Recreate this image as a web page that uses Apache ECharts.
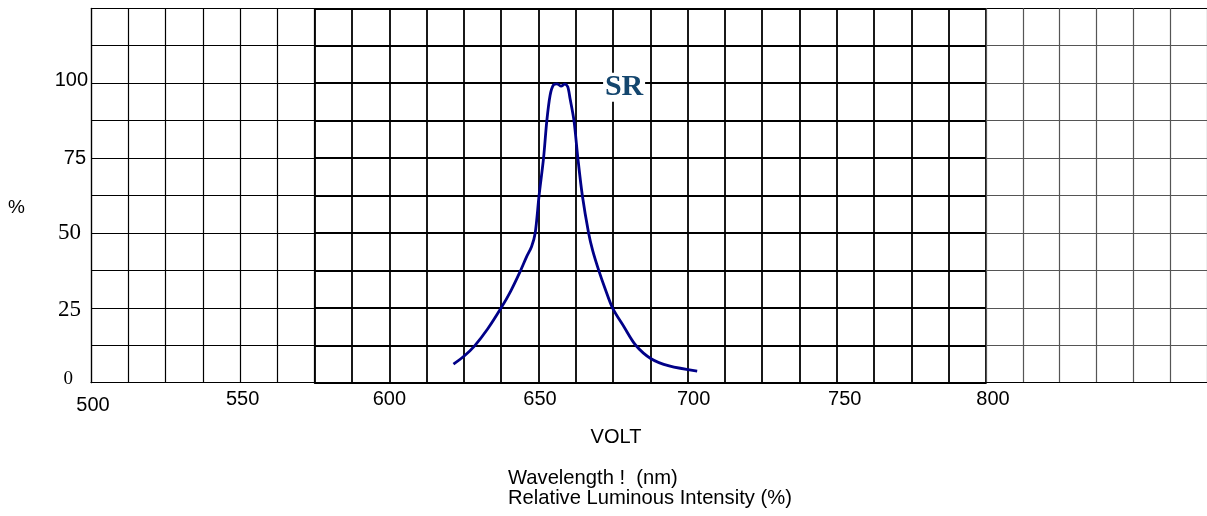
<!DOCTYPE html>
<html><head><meta charset="utf-8">
<script src="https://cdn.jsdelivr.net/npm/echarts@6/dist/echarts.min.js"></script>
<style>html,body{margin:0;padding:0;background:#fff}#c{width:1207px;height:516px}</style>
</head><body><div id="c"></div>
<script>
// ---- data ----
const wavelength = [621.5, 625.2, 628.6, 633, 637.5, 640.7, 643.8, 646, 647.7, 648.9, 650.2, 651.7, 652.8, 653.9, 655, 656.2, 657.6, 658.8, 659.8, 660.6, 661.9, 663.2, 664.7, 666.8, 668.2, 670.2, 672.4, 674.8, 678.7, 682.6, 687.6, 693.8, 703.2];
const intensity  = [6.2, 9.0, 12.3, 18, 25, 30.6, 37, 42, 45.5, 50, 62.5, 75, 87.5, 96, 99.4, 99.8, 99, 99.7, 98.8, 94.8, 87.5, 75, 62.5, 50, 44, 37.5, 31.2, 25, 18.6, 12.5, 8.1, 5.6, 3.9];
const xLabelValues = [500, 550, 600, 650, 700, 750, 800];
const yLabelValues = [0, 25, 50, 75, 100];
const seriesName = 'SR';
const srLabelAt = [678.7, 98.6];
const xRanges = [[500, 575], [575, 800], [800, 875]];

// ---- layout / style ----
const cell = 37.29, L = 91, T = 8.3, H = 374.4;
const SANS = '"Liberation Sans", Arial, sans-serif';
const SERIF = '"Liberation Serif", "Times New Roman", serif';
const xLabelStyle = {
  500: {padding: [6, 0, 0, 4]}, 550: {padding: [0, 0, 0, 5]}, 600: {padding: [0, 0, 0, 0]},
  650: {padding: [0, 0, 0, 3]}, 700: {padding: [0, 0, 0, 12]}, 750: {padding: [0, 0, 0, 16]},
  800: {padding: [0, 0, 4, 14]}
};
const yLabelStyle = {
  0: {fontFamily: SERIF, fontSize: 19, padding: [0, 15, 8, 0]},
  25: {fontFamily: SERIF, fontSize: 23, padding: [4, 7, 0, 0]},
  50: {fontFamily: SERIF, fontSize: 23, padding: [0, 7, 0, 0]},
  75: {fontFamily: SANS, fontSize: 20, padding: [0, 2, 0, 0]},
  100: {fontFamily: SANS, fontSize: 20, padding: [0, 0, 6, 0]}
};
const xRich = {}, yRich = {};
xLabelValues.forEach(v => { xRich['x' + v] = Object.assign({fontFamily: SANS, fontSize: 20, color: '#000'}, xLabelStyle[v]); });
yLabelValues.forEach(v => { yRich['y' + v] = Object.assign({color: '#000'}, yLabelStyle[v]); });

const gridStyles = [
  {color: '#000', width: 1.2},
  {color: '#000', width: 1.8},
  {color: ['#000', '#555', '#555', '#555', '#555', '#555', '#555', '#555', '#555', '#555', '#000'], width: 1.2}
];
const cellsPer = [6, 18, 6];
const lefts = [L, L + 6 * cell, L + 24 * cell];

const grids = [], xAxes = [], yAxes = [];
xRanges.forEach((r, i) => {
  grids.push({left: lefts[i], top: T, width: cellsPer[i] * cell, height: H, containLabel: false});
  const xs = i === 2 ? {color: '#555', width: 1.2} : gridStyles[i];
  xAxes.push({
    type: 'value', gridIndex: i, min: r[0], max: r[1], interval: 12.5,
    axisLine: {show: true, lineStyle: {color: '#000', width: i === 1 ? 1.8 : 1.2}},
    axisTick: {show: false},
    splitLine: {show: true, lineStyle: xs},
    axisLabel: {
      show: i < 2, margin: 7, showMinLabel: true, showMaxLabel: true,
      formatter: v => xLabelValues.includes(v) && !(i === 0 && v === 575) ? '{x' + v + '|' + v + '}' : '',
      rich: xRich
    }
  });
  yAxes.push({
    type: 'value', gridIndex: i, min: 0, max: 125, interval: 12.5,
    axisLine: {show: i === 0, lineStyle: {color: '#000', width: 1.2}},
    axisTick: {show: false},
    splitLine: {show: true, lineStyle: gridStyles[i]},
    axisLabel: {
      show: i === 0, margin: 3,
      formatter: v => yLabelValues.includes(v) ? '{y' + v + '|' + v + '}' : '',
      rich: yRich
    }
  });
});

const chart = echarts.init(document.getElementById('c'));
chart.setOption({
  animation: false,
  backgroundColor: '#fff',
  grid: grids, xAxis: xAxes, yAxis: yAxes,
  series: [{
    name: seriesName, type: 'line', xAxisIndex: 1, yAxisIndex: 1,
    data: wavelength.map((w, k) => [w, intensity[k]]),
    showSymbol: false, smooth: 0.3,
    lineStyle: {color: '#000088', width: 2.8},
    z: 5,
    markPoint: {
      symbol: 'rect', symbolSize: [42, 29],
      itemStyle: {color: '#fff'},
      label: {show: true, position: 'inside', formatter: seriesName, color: '#14466e',
               fontFamily: SERIF, fontWeight: 'bold', fontSize: 30},
      data: [{coord: srLabelAt}]
    }
  }],
  graphic: [
    {type: 'text', left: 8, top: 198, style: {text: '%', font: '19px ' + SANS, fill: '#000'}},
    {type: 'text', x: 616, y: 437, style: {text: 'VOLT', font: '20px ' + SANS, fill: '#000', align: 'center', verticalAlign: 'middle'}},
    {type: 'text', x: 508, y: 469, style: {text: 'Wavelength !  (nm)\nRelative Luminous Intensity (%)', font: '20.2px ' + SANS, lineHeight: 19.5, fill: '#000'}}
  ]
});
</script></body></html>
